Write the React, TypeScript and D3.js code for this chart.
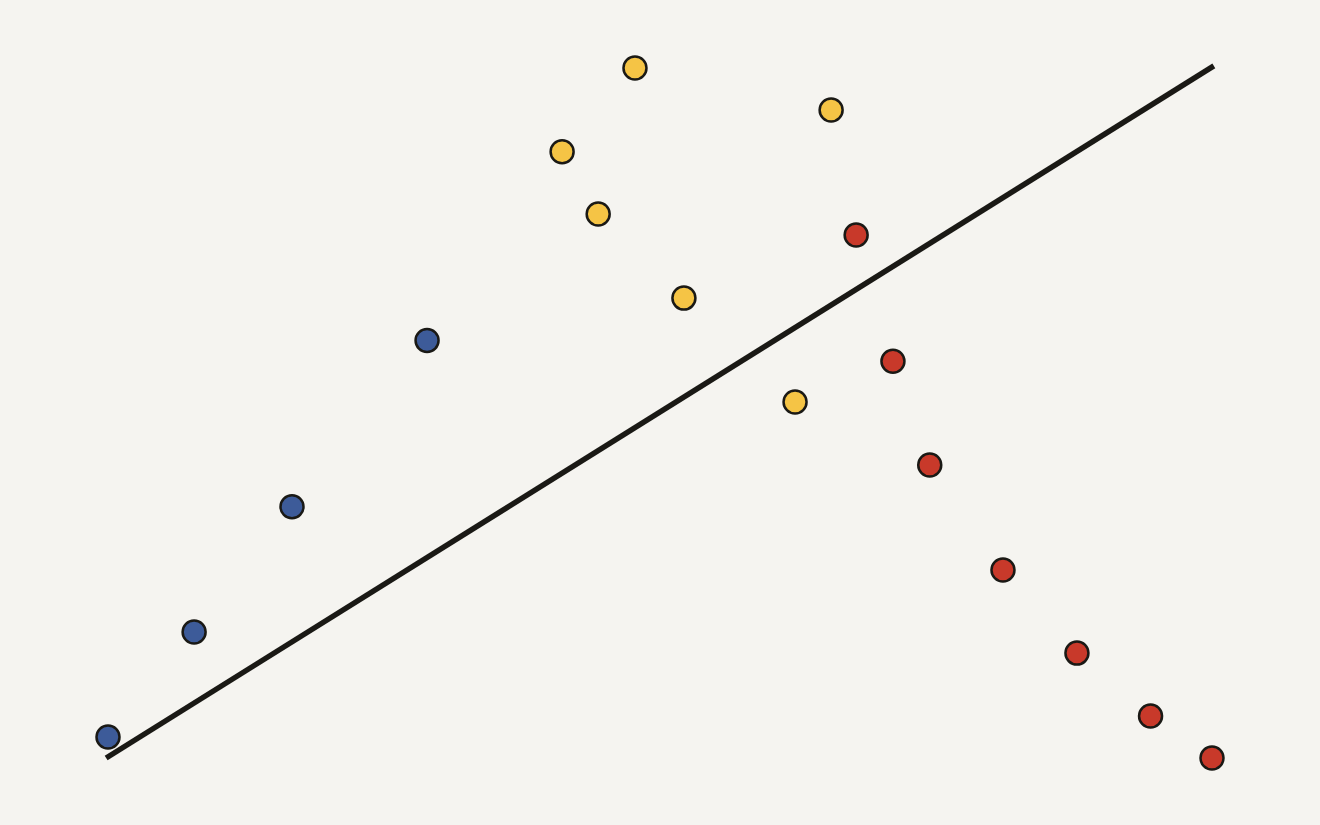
import React, { useEffect, useRef } from 'react';
import * as d3 from 'd3';

// group values
const blueX = [0, 2.34, 5, 8.67];
const blueY = [0.61, 3.65, 7.28, 12.1];
const yellowX = [12.34, 13.32, 14.32, 15.65, 18.67, 19.65];
const yellowY = [17.57, 15.77, 20, 13.33, 10.32, 18.78];
const redX = [20.33, 21.33, 22.33, 24.32, 26.33, 28.33, 30];
const redY = [15.16, 11.5, 8.49, 5.45, 3.04, 1.22, 0];

// overall trend line ends
const lineX = [-0.05, 30.05];
const lineY = [0, 20.06];

const groups = [
    { name: 'blue', xs: blueX, ys: blueY, color: '#3d5b99' },
    { name: 'yellow', xs: yellowX, ys: yellowY, color: '#f5c445' },
    { name: 'red', xs: redX, ys: redY, color: '#c8392a' },
];

export default function App() {
    const svgRef = useRef<SVGSVGElement>(null);

    useEffect(() => {
        if (!svgRef.current) return;
        const width = 1320;
        const height = 825;

        d3.select(svgRef.current).selectAll('*').remove();
        const svg = d3.select(svgRef.current)
            .attr('width', width)
            .attr('height', height);

        svg.append('rect')
            .attr('width', width)
            .attr('height', height)
            .attr('fill', '#f5f4f0');

        const x = d3.scaleLinear().domain([0, 30]).range([108, 1212]);
        const y = d3.scaleLinear().domain([0, 20]).range([758, 68]);

        const line = d3.line<number>()
            .x(d => x(lineX[d]))
            .y(d => y(lineY[d]));

        svg.append('path')
            .datum([0, 1])
            .attr('fill', 'none')
            .attr('stroke', '#1a1915')
            .attr('stroke-width', 5.5)
            .attr('d', line);

        groups.forEach(grp => {
            svg.append('g')
                .selectAll('circle')
                .data(grp.xs.map((v, i) => ({ x: v, y: grp.ys[i] })))
                .join('circle')
                .attr('cx', d => x(d.x))
                .attr('cy', d => y(d.y))
                .attr('r', 11.5)
                .attr('fill', grp.color)
                .attr('stroke', '#1a1915')
                .attr('stroke-width', 2.5);
        });
    }, []);

    return (
        <div style={{ position: 'fixed', left: 0, top: 0, width: 1320, height: 825, background: '#f5f4f0' }}>
            <svg ref={svgRef} style={{ display: 'block' }}></svg>
        </div>
    );
}
